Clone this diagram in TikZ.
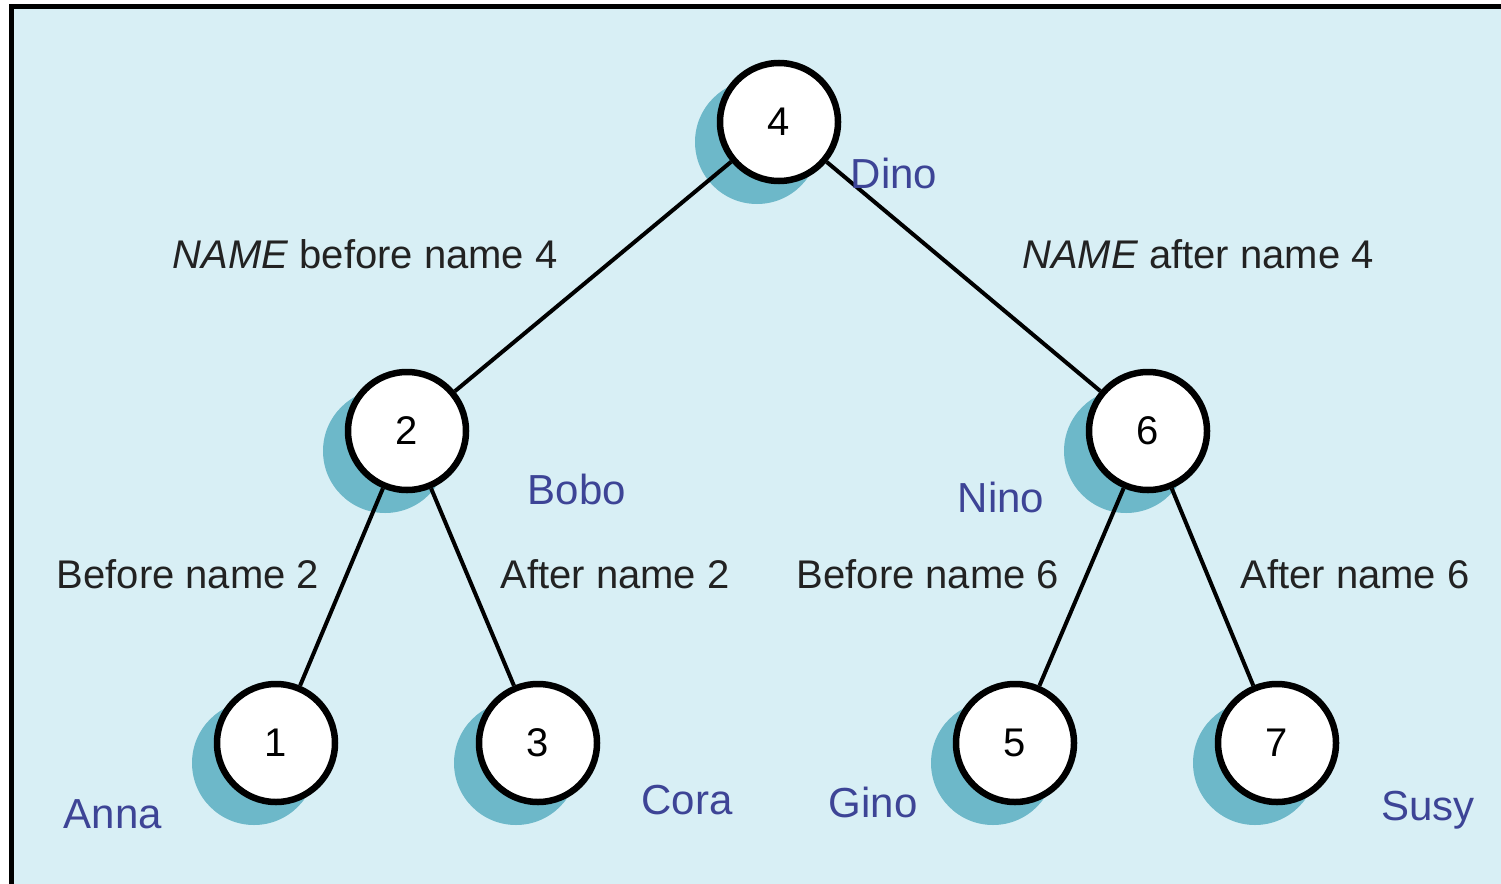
\documentclass[tikz,border=0pt]{standalone}
\usepackage{fontspec}
\setmainfont{Liberation Sans}
\pgfdeclarelayer{back}
\pgfdeclarelayer{edges}
\pgfsetlayers{back,edges,main}
\definecolor{bgblue}{HTML}{D8EFF5}
\definecolor{shadowblue}{HTML}{6DB8C9}
\definecolor{nameblue}{HTML}{3D4496}
\definecolor{labelgray}{HTML}{222222}
\tikzset{
  treenode/.style={circle, draw=black, line width=6.5pt, fill=white, minimum size=118pt, inner sep=0pt,
    font=\fontsize{40}{44}\selectfont},
  shadowdisc/.style={circle, fill=shadowblue, minimum size=124pt, inner sep=0pt},
  edgeline/.style={line width=4pt, black},
  branchlabel/.style={font=\fontsize{40}{46}\selectfont, text=labelgray, inner sep=0pt},
  personname/.style={font=\fontsize{42}{48}\selectfont, text=nameblue, inner sep=0pt},
}
\begin{document}
\begin{tikzpicture}[x=1pt,y=-1pt]
\useasboundingbox (0,0) rectangle (1501,883);
\begin{pgfonlayer}{back}
\fill[white] (0,0) rectangle (1501,883);
\draw[fill=bgblue, line width=5pt] (11.5,6.5) rectangle (1520,900);
\end{pgfonlayer}
% nodes
\node[treenode] (n4) at (779,122) {4};
\node[treenode] (n2) at (407,431) {2};
\node[treenode] (n6) at (1148,431) {6};
\node[treenode] (n1) at (276,743) {1};
\node[treenode] (n3) at (538,743) {3};
\node[treenode] (n5) at (1015,743) {5};
\node[treenode] (n7) at (1277,743) {7};
% shadows
\begin{pgfonlayer}{back}
\foreach \n/\x/\y in {s4/779/122, s2/407/431, s6/1148/431, s1/276/743, s3/538/743, s5/1015/743, s7/1277/743}
  \node[shadowdisc] (\n) at (\x-22,\y+20) {};
\end{pgfonlayer}
% edges
\begin{pgfonlayer}{edges}
\draw[edgeline] (n4) -- (n2);
\draw[edgeline] (n4) -- (n6);
\draw[edgeline] (n2) -- (n1);
\draw[edgeline] (n2) -- (n3);
\draw[edgeline] (n6) -- (n5);
\draw[edgeline] (n6) -- (n7);
\end{pgfonlayer}
% branch labels
\node[branchlabel] (l1) at (365,254) {\textit{NAME} before name 4};
\node[branchlabel] (l2) at (1198,254) {\textit{NAME} after name 4};
\node[branchlabel] (l3) at (188,574) {Before name 2};
\node[branchlabel] (l4) at (615,574) {After name 2};
\node[branchlabel] (l5) at (928,574) {Before name 6};
\node[branchlabel] (l6) at (1355,574) {After name 6};
% names
\node[personname] (dino) at (894,173) {Dino};
\node[personname] (bobo) at (577,489) {Bobo};
\node[personname] (nino) at (1001,497) {Nino};
\node[personname] (anna) at (113,814) {Anna};
\node[personname] (cora) at (687,800) {Cora};
\node[personname] (gino) at (873,802) {Gino};
\node[personname] (susy) at (1428,810) {Susy};
\end{tikzpicture}
\end{document}
